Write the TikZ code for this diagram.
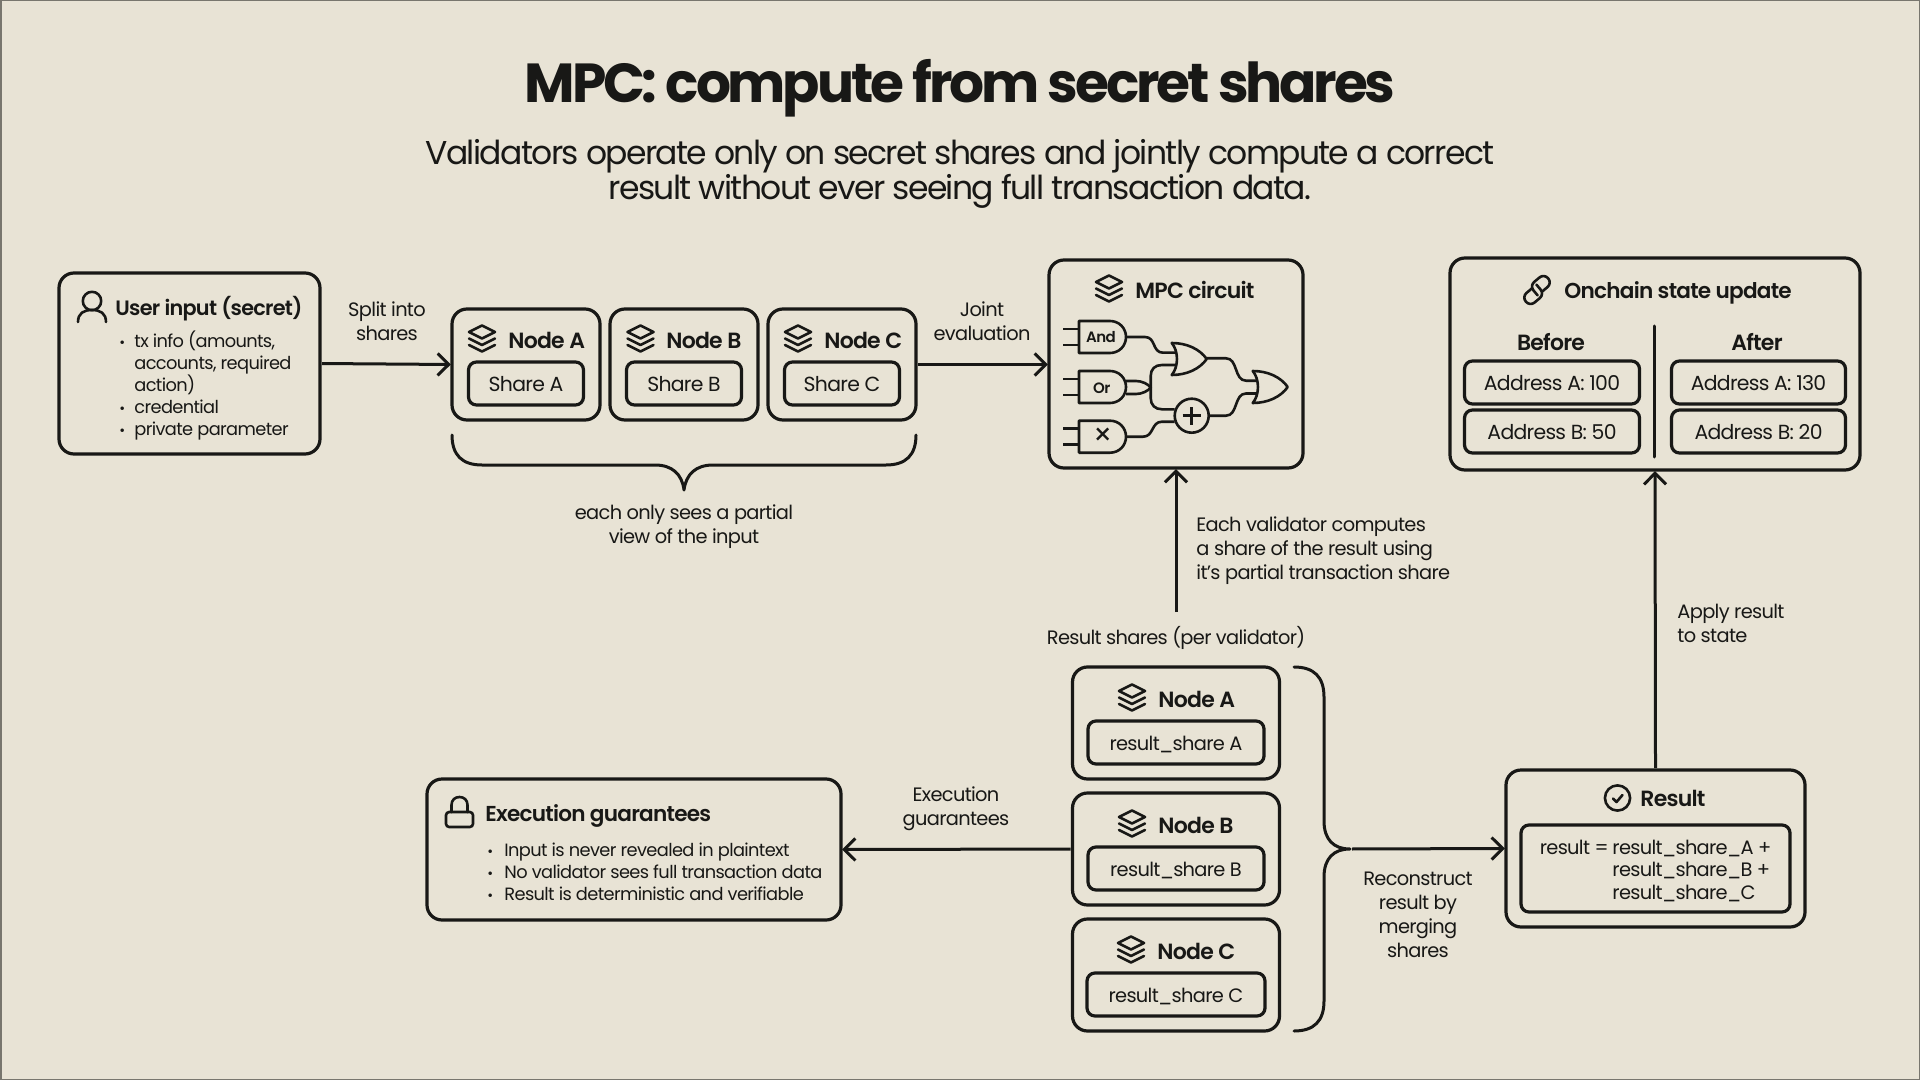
\documentclass[tikz,border=0pt]{standalone}
\usepackage{fontspec}
\setmainfont{Poppins}[LetterSpace=-3.5,BoldFont={Poppins SemiBold}]
\newfontfamily\titlefont{Poppins}[LetterSpace=-5.8,BoldFont={Poppins Bold}]
\newfontfamily\leadfont{Poppins}[LetterSpace=-5]
\usetikzlibrary{positioning,arrows.meta}
\definecolor{pagebg}{RGB}{232,227,213}
\definecolor{ink}{RGB}{24,24,22}
\definecolor{pageedge}{RGB}{120,118,110}
\newcommand{\bul}{\makebox[7.5pt][l]{\scalebox{.8}{•}}}
\newcommand{\ind}{\hspace*{7.5pt}}
\setlength{\lineskiplimit}{-20pt}
\tikzset{
  panel/.style={draw=ink,line width=1.6pt,rounded corners=7.5pt,outer sep=0pt,inner sep=0pt},
  inbox/.style={panel,rounded corners=4pt,text=ink,text height=8.4pt,text depth=0pt,font=\fontsize{10.2}{11}\selectfont},
  heading/.style={text=ink,inner sep=0pt,anchor=west,font=\fontsize{11}{12}\selectfont\bfseries},
  bodytext/.style={text=ink,inner sep=0pt,align=left,font=\fontsize{8.9}{11}\selectfont},
  steplabel/.style={text=ink,inner sep=0pt,align=center,font=\fontsize{9.7}{12}\selectfont},
  flow/.style={draw=ink,line width=1.5pt,shorten <=1pt,shorten >=.6pt,-{Straight Barb[length=5.5pt,width=11pt,line width=1.5pt]}},
  icon/.style={draw=ink,line width=1.3pt,line join=round,line cap=round},
  wire/.style={draw=ink,line width=1.3pt,line join=round},
  layers/.pic={
    \draw[icon] (0,-13.5) -- (13,-7) -- (0,-.5) -- (-13,-7) -- cycle;
    \draw[icon] (-13,-.5) -- (0,6) -- (13,-.5);
    \draw[icon] (-13,6) -- (0,12.5) -- (13,6);
  },
  logicgate/.pic={
    \draw[wire] (-16,-8) -- (0,-8) (-16,8) -- (0,8);
    \draw[wire] (0,-16) -- (31,-16) .. controls (40,-16) and (47,-9) .. (47,0) .. controls (47,9) and (40,16) .. (31,16) -- (0,16) -- cycle;
  },
  orgate/.pic={
    \draw[wire] (0,-16) .. controls (15,-16) and (28,-10) .. (35,0) .. controls (28,10) and (15,16) .. (0,16) .. controls (7,8) and (7,-8) .. (0,-16) -- cycle;
  },
  chainlink/.pic={
    \draw[icon,rounded corners=3pt] (-3,4.5) -- (-3,-8) -- (16,-8) -- (16,4.5) -- (3,4.5);
    \draw[icon,rounded corners=3pt] (3,-4.5) -- (3,8) -- (-16,8) -- (-16,-4.5) -- (-3,-4.5);
  }
}
\begin{document}
\begin{tikzpicture}[x=.5pt,y=-.5pt]
  \useasboundingbox (0,0) rectangle (1920,1080);
  \fill[pagebg] (0,0) rectangle (1920,1080);
  \draw[pageedge,line width=1.5pt] (0,0) rectangle (1920,1080);

  \node[text=ink,inner sep=0pt,font=\fontsize{27.5}{30}\titlefont\bfseries] (title) at (960,88) {MPC: compute from secret shares};
  \node[text=ink,inner sep=0pt,align=center,font=\fontsize{16.5}{17.75}\leadfont] (subtitle) at (960,174) {Validators operate only on secret shares and jointly compute a correct\\result without ever seeing full transaction data.};

  \node[panel,minimum width=130.5pt,minimum height=90.5pt] (userbox) at (189.5,363.5) {};
  \draw[icon] (92,301) circle (4.6pt);
  \draw[icon] (78,322) .. controls (78,313) and (84,310) .. (92,310) .. controls (100,310) and (106,313) .. (106,322);
  \node[heading,font=\fontsize{10.4}{12}\selectfont\bfseries] (usertitle) at (115,309) {User input (secret)};
  \node[bodytext,anchor=north west] (userlist) at (119,330) {\bul tx info (amounts,\\\ind accounts, required\\\ind action)\\\bul credential\\\bul private parameter};

  \node[panel,minimum width=74pt,minimum height=55.5pt] (nodea) at (526,364.5) {};
  \node[panel,minimum width=74pt,minimum height=55.5pt,right=5pt of nodea] (nodeb) {};
  \node[panel,minimum width=74pt,minimum height=55.5pt,right=5pt of nodeb] (nodec) {};
  \node[inbox,minimum width=57.5pt,minimum height=21.5pt,above=7.5pt of nodea.south] (sharea) {Share A};
  \node[inbox,minimum width=57.5pt,minimum height=21.5pt,above=7.5pt of nodeb.south] (shareb) {Share B};
  \node[inbox,minimum width=57.5pt,minimum height=21.5pt,above=7.5pt of nodec.south] (sharec) {Share C};
  \pic at (482,339) {layers};
  \pic at (640.5,339) {layers};
  \pic at (798,339) {layers};
  \node[heading] (nodeatitle) at (508,340) {Node A};
  \node[heading] (nodebtitle) at (666,340) {Node B};
  \node[heading] (nodectitle) at (824,340) {Node C};

  \node[steplabel] (splitlabel) at (387,321) {Split into\\shares};
  \node[steplabel] (jointlabel) at (982,321) {Joint\\evaluation};
  \draw[flow] (userbox.east) -- (nodea.west);
  \draw[flow] (nodec.east) -- (1049,364.5);

  \coordinate (bracetip) at (684,490);
  \draw[wire,line width=1.5pt,line cap=round] (452,435) .. controls (452,455) and (462,465) .. (482,465) -- (655,465) .. controls (672,465) and (682,474) .. (bracetip) .. controls (686,474) and (696,465) .. (713,465) -- (886,465) .. controls (906,465) and (916,455) .. (916,435);
  \node[steplabel] (partiallabel) at (684,526.5) {each only sees a partial\\view of the input};

  \node[panel,minimum width=127pt,minimum height=104pt] (mpcbox) at (1176,364) {};
  \pic at (1109,289) {layers};
  \node[heading] (mpctitle) at (1135,290) {MPC circuit};
  \pic at (1079,337) {logicgate};
  \pic at (1079,387) {logicgate};
  \pic at (1079,436.7) {logicgate};
  \node[text=ink,inner sep=0pt,font=\fontsize{7.5}{8}\selectfont\bfseries] (andlabel) at (1101,337) {And};
  \node[text=ink,inner sep=0pt,font=\fontsize{7.5}{8}\selectfont\bfseries] (orlabel) at (1101.7,388) {Or};
  \node[text=ink,inner sep=0pt,font=\fontsize{15}{16}\selectfont] (timeslabel) at (1102.7,436.7) {×};
  \pic at (1171.7,359) {orgate};
  \pic at (1252.7,387) {orgate};
  \node[draw=ink,circle,line width=1.3pt,minimum size=17pt,inner sep=0pt,outer sep=0pt] (xorgate) at (1191.7,415.7) {};
  \draw[wire] ([xshift=-4.5pt]xorgate.center) -- ([xshift=4.5pt]xorgate.center) ([yshift=-4.5pt]xorgate.center) -- ([yshift=4.5pt]xorgate.center);
  \draw[wire] (1126,337) -- (1145,337) .. controls (1156,337) and (1152,352.7) .. (1163,352.7) -- (1176,352.7);
  \draw[wire] (1126,381) -- (1136,381) .. controls (1142,381) and (1148,384) .. (1150.7,387.5) .. controls (1148,391) and (1142,394) .. (1136,394) -- (1126,394);
  \draw[wire] (1176,365) -- (1162,365) .. controls (1155,365) and (1150.7,369) .. (1150.7,376) -- (1150.7,398) .. controls (1150.7,405) and (1155,409.3) .. (1162,409.3) -- (xorgate.west |- 0,409.3);
  \draw[wire] (1126,436.7) -- (1143,436.7) .. controls (1154,436.7) and (1151,421.7) .. (1162,421.7) -- (xorgate.west |- 0,421.7);
  \draw[wire] (xorgate.east) -- (1226,415.7) .. controls (1238,415.7) and (1234,393.5) .. (1246,393.5) -- (1257,393.5);
  \draw[wire] (1207,358.3) -- (1226,358.3) .. controls (1238,358.3) and (1234,380.7) .. (1246,380.7) -- (1257,380.7);

  \node[panel,minimum width=205pt,minimum height=106pt] (chainbox) at (1655,364) {};
  \pic[rotate=40] at (1537,290) {chainlink};
  \node[heading,font=\fontsize{10.8}{12}\selectfont\bfseries] (chaintitle) at (1564,293) {Onchain state update};
  \node[heading,anchor=center] (beforelabel) at (1551,342) {Before};
  \node[heading,anchor=center] (afterlabel) at (1757,342) {After};
  \node[inbox,minimum width=87.5pt,minimum height=21.5pt] (beforea) at (1552,382.5) {Address A: 100};
  \node[inbox,minimum width=87.5pt,minimum height=21.5pt,below=3pt of beforea] (beforeb) {Address B: 50};
  \node[inbox,minimum width=87pt,minimum height=21.5pt] (aftera) at (1758.5,382.5) {Address A: 130};
  \node[inbox,minimum width=87pt,minimum height=21.5pt,below=3pt of aftera] (afterb) {Address B: 20};
  \coordinate (dividertop) at (1654.5,326);
  \coordinate (dividerend) at (1654.5,457);
  \draw[ink,line width=1.5pt,line cap=round] (dividertop) -- (dividerend);

  \node[steplabel,align=left,anchor=west] (computelabel) at (1196,550.5) {Each validator computes\\a share of the result using\\it’s partial transaction share};
  \node[steplabel] (resultshares) at (1176,638) {Result shares (per validator)};
  \draw[flow] ([yshift=6pt]resultshares.north) -- (mpcbox.south);

  \node[panel,minimum width=103.5pt,minimum height=56pt] (resulta) at (1176,723) {};
  \node[panel,minimum width=103.5pt,minimum height=56pt,below=7pt of resulta] (resultb) {};
  \node[panel,minimum width=103.5pt,minimum height=56pt,below=7pt of resultb] (resultc) {};
  \node[inbox,font=\fontsize{9.7}{11}\selectfont,minimum width=88pt,minimum height=21.5pt,above=7.5pt of resulta.south] (sharera) {result\_share A};
  \node[inbox,font=\fontsize{9.7}{11}\selectfont,minimum width=88pt,minimum height=21.5pt,above=7.5pt of resultb.south] (sharerb) {result\_share B};
  \node[inbox,font=\fontsize{9.7}{11}\selectfont,minimum width=89pt,minimum height=21.5pt,above=7.5pt of resultc.south] (sharerc) {result\_share C};
  \pic at (1132,698) {layers};
  \pic at (1132,824) {layers};
  \pic at (1131,950) {layers};
  \node[heading] (resultatitle) at (1158,699) {Node A};
  \node[heading] (resultbtitle) at (1158,825) {Node B};
  \node[heading] (resultctitle) at (1157,951) {Node C};

  \coordinate (mergetip) at (1350,849);
  \draw[wire,line width=1.5pt,line cap=round] (1294,667) .. controls (1314,667) and (1324,677) .. (1324,697) -- (1324,821) .. controls (1324,840) and (1334,849) .. (mergetip) .. controls (1334,849) and (1324,858) .. (1324,877) -- (1324,1001) .. controls (1324,1021) and (1314,1031) .. (1294,1031);
  \node[steplabel] (mergelabel) at (1418,914.5) {Reconstruct\\result by\\merging\\shares};

  \node[panel,minimum width=149.5pt,minimum height=78.5pt] (resultbox) at (1655.5,848.5) {};
  \draw[icon] (1617.5,798) circle (6.3pt);
  \draw[icon] (1613,798.5) -- (1616.5,802) -- (1622.5,795);
  \node[heading] (resulttitle) at (1640,798) {Result};
  \node[panel,rounded corners=4pt,minimum width=134.5pt,minimum height=43.5pt] (formulabox) at (1655.5,868.5) {};
  \node[bodytext,font=\fontsize{9.7}{11.3}\selectfont,anchor=north east] (resultterm) at (1609,839.5) {result =};
  \node[bodytext,font=\fontsize{9.7}{11.3}\selectfont,anchor=north west] (formulaterms) at (1612,839.5) {result\_share\_A +\\result\_share\_B +\\result\_share\_C};

  \node[panel,minimum width=207pt,minimum height=70.5pt] (guarantees) at (634,849.5) {};
  \draw[icon,rounded corners=1.6pt] (446,812) rectangle (473,827);
  \draw[icon] (451.5,812) -- (451.5,805) .. controls (451.5,800) and (455,797) .. (459.5,797) .. controls (464,797) and (467.5,800) .. (467.5,805) -- (467.5,812);
  \node[heading,font=\fontsize{10.8}{12}\selectfont\bfseries] (guaranteetitle) at (485,815.5) {Execution guarantees};
  \node[bodytext,anchor=north west] (guaranteelist) at (487,842.5) {\bul\hspace{1pt}Input is never revealed in plaintext\\\bul\hspace{1pt}No validator sees full transaction data\\\bul\hspace{1pt}Result is deterministic and verifiable};

  \node[steplabel] (guaranteelabel) at (956,808.5) {Execution\\guarantees};
  \node[steplabel,align=left,anchor=west] (applylabel) at (1677,623) {Apply result\\to state};

  \draw[flow] (resultb.west) -- (guarantees.east);
  \draw[flow] (mergetip) -- (resultbox.west);
  \draw[flow] (resultbox.north) -- (chainbox.south);
\end{tikzpicture}
\end{document}
